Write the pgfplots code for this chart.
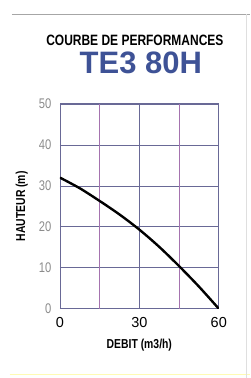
\documentclass[border=0pt]{standalone}
\usepackage{fontspec}
\setmainfont{Liberation Sans}
\newfontfamily\narrow{Liberation Sans}[FakeStretch=0.8]
\usepackage{pgfplots}
\pgfplotsset{compat=1.18}
\definecolor{titleblue}{RGB}{62,82,150}
\definecolor{gridblue}{RGB}{105,105,150}
\definecolor{gridpurple}{RGB}{165,115,175}
\definecolor{ticgray}{RGB}{140,140,140}
\begin{document}
\begin{tikzpicture}[x=1pt,y=1pt]
\path[fill=white] (0,0) rectangle (250,378);
\draw[gray!70, line width=0.8pt] (12,364) -- (250,364);
\draw[yellow!30!white, line width=1pt] (10,3) -- (250,3);
\draw[gray!25, line width=0.8pt] (247,0) -- (247,364);
\node[font=\narrow\bfseries\fontsize{15}{17}\selectfont] at (135,338) {COURBE DE PERFORMANCES};
\node[font=\bfseries\fontsize{31}{33}\selectfont, text=titleblue] at (141,315) {TE3 80H};
\begin{axis}[
  at={(60pt,69pt)}, anchor=south west,
  scale only axis, width=159pt, height=205pt,
  xmin=0, xmax=60, ymin=0, ymax=50,
  xtick={0,30,60}, ytick={0,10,20,30,40,50},
  extra x ticks={15,45}, extra x tick labels={},
  extra x tick style={grid=major, major grid style={gridpurple, line width=0.6pt}, major tick length=0pt},
  grid=major,
  major grid style={gridblue, line width=0.6pt},
  axis line style={gridblue, line width=0.8pt},
  tick style={draw=none},
  /pgf/number format/assume math mode=true,
  xticklabel style={font=\fontsize{14.5}{16}\selectfont, text=black, yshift=-5pt},
  yticklabel style={font=\narrow\fontsize{14}{16}\selectfont, text=ticgray, xshift=-5pt},
  xlabel={DEBIT (m3/h)},
  ylabel={HAUTEUR (m)},
  xlabel style={font=\narrow\bfseries\fontsize{13}{15}\selectfont, at={(axis description cs:0.5,-0.176)}, anchor=center},
  ylabel style={font=\narrow\bfseries\fontsize{13}{15}\selectfont, at={(axis description cs:-0.24,0.5)}, anchor=center},
]
\addplot[black, line width=2.4pt, smooth] coordinates {
(0,32) (7.5,29.4) (15,26.3) (22.5,23) (30,19.3) (37.5,15.1) (45,10.4) (52.5,5.4) (60,0)
};
\end{axis}
\end{tikzpicture}
\end{document}
